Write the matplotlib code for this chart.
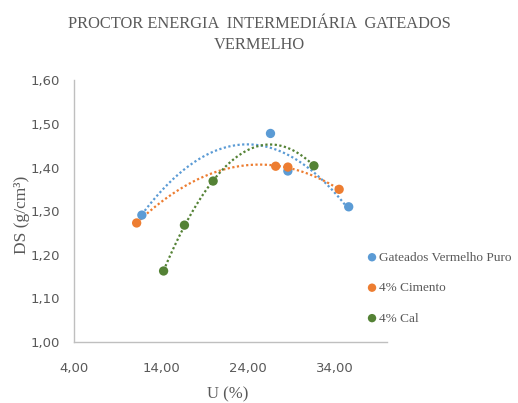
import numpy as np
import matplotlib
matplotlib.use("Agg")
import matplotlib.pyplot as plt

# values
series_names = ["Gateados Vermelho Puro", "4% Cimento", "4% Cal"]
u_puro = [11.8, 26.6, 28.6, 35.6]
ds_puro = [1.291, 1.478, 1.392, 1.310]
u_cimento = [11.2, 27.2, 28.6, 34.5]
ds_cimento = [1.273, 1.403, 1.401, 1.350]
u_cal = [14.3, 16.7, 20.0, 31.6]
ds_cal = [1.163, 1.268, 1.369, 1.404]

x_ticks = [4, 14, 24, 34]
y_ticks = [1.0, 1.1, 1.2, 1.3, 1.4, 1.5, 1.6]

colors = ["#5B9BD5", "#ED7D31", "#548235"]
grey = "#595959"

fig = plt.figure(figsize=(5.18, 4.03), dpi=100)
ax = fig.add_axes([0.143, 0.151, 0.604, 0.650])

data = [(u_puro, ds_puro), (u_cimento, ds_cimento), (u_cal, ds_cal)]
handles = []
for (u, ds), c, name in zip(data, colors, series_names):
    # polynomial trendline of order 2, like the spreadsheet one
    coef = np.polyfit(u, ds, 2)
    xs = np.linspace(min(u), max(u), 200)
    ax.plot(xs, np.polyval(coef, xs), color=c, lw=1.6, ls=(0, (1, 1.1)), zorder=2)
    h = ax.scatter(u, ds, s=45, color=c, zorder=3, label=name, edgecolors="none")
    handles.append(h)

ax.set_xlim(4, 40)
ax.set_ylim(1.0, 1.6)
ax.set_xticks(x_ticks)
ax.set_xticklabels([f"{v:.2f}".replace(".", ",") for v in x_ticks])
ax.set_yticks(y_ticks)
ax.set_yticklabels([f"{v:.2f}".replace(".", ",") for v in y_ticks])
ax.tick_params(length=0, labelsize=9.5, labelcolor=grey)
ax.tick_params(axis="y", pad=10)
ax.tick_params(axis="x", pad=14)
for lab in ax.get_xticklabels() + ax.get_yticklabels():
    lab.set_fontfamily("Liberation Sans Narrow")

for side in ["top", "right"]:
    ax.spines[side].set_visible(False)
for side in ["left", "bottom"]:
    ax.spines[side].set_color("#BFBFBF")
    ax.spines[side].set_linewidth(1.0)

serif = "Liberation Serif"
ax.set_xlabel("U (%)", family=serif, fontsize=12, color=grey)
ax.xaxis.set_label_coords(0.49, -0.168)
ax.set_ylabel("DS (g/cm³)", family=serif, fontsize=12.5, color=grey)
ax.yaxis.set_label_coords(-0.141, 0.485)

fig.text(0.5, 0.915, "PROCTOR ENERGIA  INTERMEDIÁRIA  GATEADOS\nVERMELHO",
         ha="center", va="center", family=serif, fontsize=11.8, color=grey,
         linespacing=1.4)

leg = fig.legend(handles=handles, loc="upper left", bbox_to_anchor=(0.708, 0.376),
                 frameon=False, handlelength=0.8, handletextpad=0.15,
                 labelspacing=1.38, borderpad=0, borderaxespad=0,
                 prop={"family": serif, "size": 9.5}, markerscale=0.9)
for t in leg.get_texts():
    t.set_color(grey)

fig.savefig("out.png", dpi=100)
